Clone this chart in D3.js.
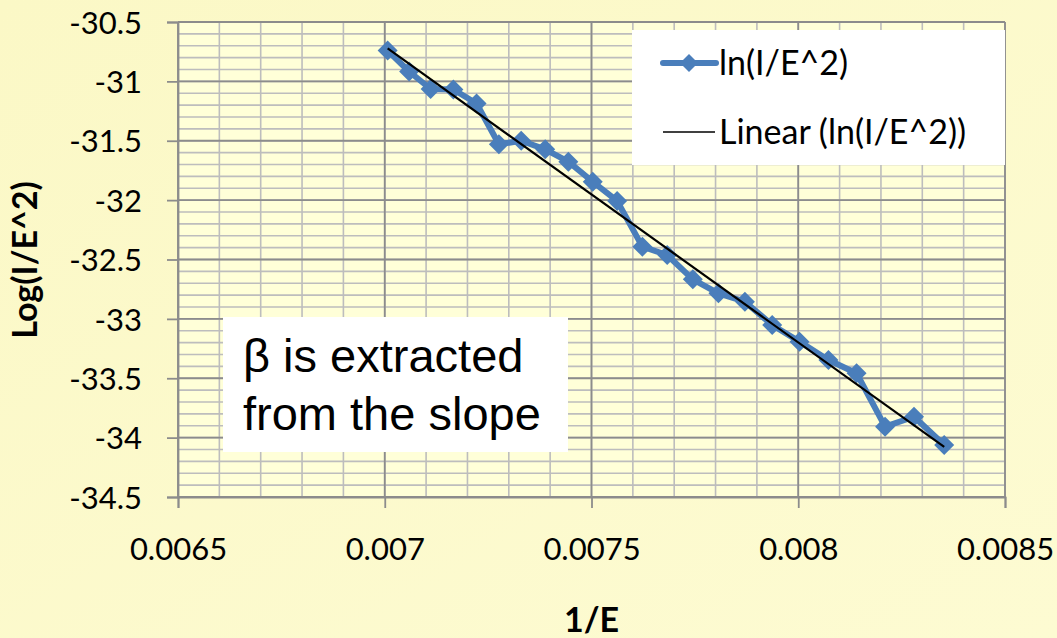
<!DOCTYPE html>
<html>
<head>
<meta charset="utf-8">
<script src="https://cdn.jsdelivr.net/npm/d3@7"></script>
<style>
  html, body { margin: 0; padding: 0; }
  body { width: 1057px; height: 638px; overflow: hidden; }
</style>
</head>
<body>
<svg id="chart" width="1057" height="638"></svg>
<script>
// Measured series: 1/E against ln(I/E^2)
const invE = [0.007007, 0.007059, 0.007111, 0.007166, 0.007222, 0.007276, 0.00733,
              0.007388, 0.007444, 0.007503, 0.007562, 0.007623, 0.007683, 0.007745,
              0.007807, 0.007871, 0.007937, 0.008003, 0.008073, 0.008141, 0.00821,
              0.00828, 0.008353];
const lnIE2 = [-30.74, -30.917, -31.064, -31.068, -31.186, -31.53, -31.5,
               -31.572, -31.676, -31.845, -32.007, -32.392, -32.462, -32.667,
               -32.785, -32.855, -33.052, -33.192, -33.346, -33.458, -33.908,
               -33.824, -34.062];

const xTicks = [0.0065, 0.007, 0.0075, 0.008, 0.0085];
const yTicks = [-30.5, -31, -31.5, -32, -32.5, -33, -33.5, -34, -34.5];
const seriesName = "ln(I/E^2)";
const trendName = "Linear (ln(I/E^2))";
const xTitle = "1/E";
const yTitle = "Log(I/E^2)";
const noteLines = ["\u03B2 is extracted", "from the slope"];

(function draw() {
const svg = d3.select("#chart");
const W = 1057, H = 638;
const pl = 178, pr = 1005, pt = 22, pb = 497;

const x = d3.scaleLinear().domain([0.0065, 0.0085]).range([pl, pr]);
const y = d3.scaleLinear().domain([-34.5, -30.5]).range([pb, pt]);

// Page background
const defs = svg.append("defs");
const bg = defs.append("linearGradient").attr("id", "bg")
  .attr("x1", 0).attr("y1", 0).attr("x2", 1).attr("y2", 1);
bg.append("stop").attr("offset", 0).attr("stop-color", "#FBF8C6");
bg.append("stop").attr("offset", 1).attr("stop-color", "#FDFBD2");
svg.append("rect").attr("width", W).attr("height", H).attr("fill", "url(#bg)");

// Plot area
svg.append("rect")
  .attr("x", pl).attr("y", pt)
  .attr("width", pr - pl).attr("height", pb - pt)
  .attr("fill", "#FFFFD8");

// Minor gridlines
const xMinor = d3.range(0, 21).map(i => 0.0065 + i * 0.0001);
const yMinor = d3.range(0, 41).map(i => -34.5 + i * 0.1);
const grid = svg.append("g");
grid.selectAll(".vminor").data(xMinor).join("line")
  .attr("x1", d => x(d)).attr("x2", d => x(d))
  .attr("y1", pt).attr("y2", pb)
  .attr("stroke", "#BDBDBD").attr("stroke-width", 1.6);
grid.selectAll(".hminor").data(yMinor).join("line")
  .attr("y1", d => y(d)).attr("y2", d => y(d))
  .attr("x1", pl).attr("x2", pr)
  .attr("stroke", "#BDBDBD").attr("stroke-width", 1.6);

// Major gridlines
grid.selectAll(".vmajor").data(xTicks).join("line")
  .attr("x1", d => x(d)).attr("x2", d => x(d))
  .attr("y1", pt).attr("y2", pb)
  .attr("stroke", "#8C8C8C").attr("stroke-width", 1.8);
grid.selectAll(".hmajor").data(yTicks).join("line")
  .attr("y1", d => y(d)).attr("y2", d => y(d))
  .attr("x1", pl).attr("x2", pr)
  .attr("stroke", "#8C8C8C").attr("stroke-width", 1.8);

// Axes
const fmt = d => String(d);
const yAxis = svg.append("g").attr("transform", `translate(${pl},0)`)
  .call(d3.axisLeft(y).tickValues(yTicks).tickFormat(fmt).tickSize(11).tickPadding(25));
const xAxis = svg.append("g").attr("transform", `translate(0,${pb})`)
  .call(d3.axisBottom(x).tickValues(xTicks).tickFormat(fmt).tickSize(11).tickPadding(30));
[yAxis, xAxis].forEach(a => {
  a.select(".domain").attr("stroke", "#8C8C8C").attr("stroke-width", 1.8);
  a.selectAll(".tick line").attr("stroke", "#8C8C8C").attr("stroke-width", 1.8);
  a.selectAll("text").attr("fill", "#000")
    .style("font-family", "Lato, 'Open Sans', sans-serif").style("font-size", "31px");
});
yAxis.selectAll("text").attr("dy", "0.36em");
xAxis.selectAll("text").attr("dy", "0.72em");

// Axis titles
svg.append("text")
  .attr("x", (pl + pr) / 2).attr("y", 632)
  .attr("text-anchor", "middle")
  .style("font-family", "Lato, sans-serif").style("font-weight", "bold").style("font-size", "34px")
  .text(xTitle);
svg.append("text")
  .attr("transform", "translate(37,260) rotate(-90)")
  .attr("text-anchor", "middle")
  .style("font-family", "Lato, sans-serif").style("font-weight", "bold").style("font-size", "34px")
  .text(yTitle);

// Least-squares trendline
const n = invE.length;
const mx = d3.mean(invE), my = d3.mean(lnIE2);
let sxy = 0, sxx = 0;
for (let i = 0; i < n; i++) {
  sxy += (invE[i] - mx) * (lnIE2[i] - my);
  sxx += (invE[i] - mx) * (invE[i] - mx);
}
const slope = sxy / sxx, intercept = my - slope * mx;
const x0 = d3.min(invE), x1 = d3.max(invE);

// Data series
const pts = invE.map((v, i) => [v, lnIE2[i]]);
const lineGen = d3.line().x(d => x(d[0])).y(d => y(d[1]));
const blue = "#4A7EBB";
svg.append("path").datum(pts)
  .attr("d", lineGen)
  .attr("fill", "none").attr("stroke", blue).attr("stroke-width", 6)
  .attr("stroke-linejoin", "round");
const diamond = r => `M0,${-r}L${r},0L0,${r}L${-r},0Z`;
svg.selectAll(".mk").data(pts).join("path")
  .attr("transform", d => `translate(${x(d[0])},${y(d[1])})`)
  .attr("d", diamond(10))
  .attr("fill", blue);

svg.append("line")
  .attr("x1", x(x0)).attr("y1", y(slope * x0 + intercept))
  .attr("x2", x(x1)).attr("y2", y(slope * x1 + intercept))
  .attr("stroke", "#000").attr("stroke-width", 2.2);

// Legend
const lg = svg.append("g");
lg.append("rect").attr("x", 632).attr("y", 30).attr("width", 373).attr("height", 135).attr("fill", "#FFFFFF");
lg.append("line").attr("x1", 663).attr("x2", 716).attr("y1", 63).attr("y2", 63)
  .attr("stroke", blue).attr("stroke-width", 6).attr("stroke-linecap", "round");
lg.append("path").attr("transform", "translate(689,63)").attr("d", diamond(9)).attr("fill", blue);
lg.append("line").attr("x1", 663).attr("x2", 715).attr("y1", 132).attr("y2", 132)
  .attr("stroke", "#000").attr("stroke-width", 1.5);
lg.selectAll(".lt").data([seriesName, trendName]).join("text")
  .attr("x", 719).attr("y", (d, i) => 63 + i * 69)
  .attr("dy", "0.36em")
  .style("font-family", "Lato, sans-serif").style("font-size", "34px")
  .text(d => d);

// Annotation box
svg.append("rect").attr("x", 223).attr("y", 317).attr("width", 345).attr("height", 135).attr("fill", "#FFFFFF");
svg.selectAll(".note").data(noteLines).join("text")
  .attr("x", 243).attr("y", (d, i) => 372 + i * 58)
  .style("font-family", "'Liberation Sans', Arial, sans-serif").style("font-size", "47px")
  .text(d => d);
})();
</script>
</body>
</html>
